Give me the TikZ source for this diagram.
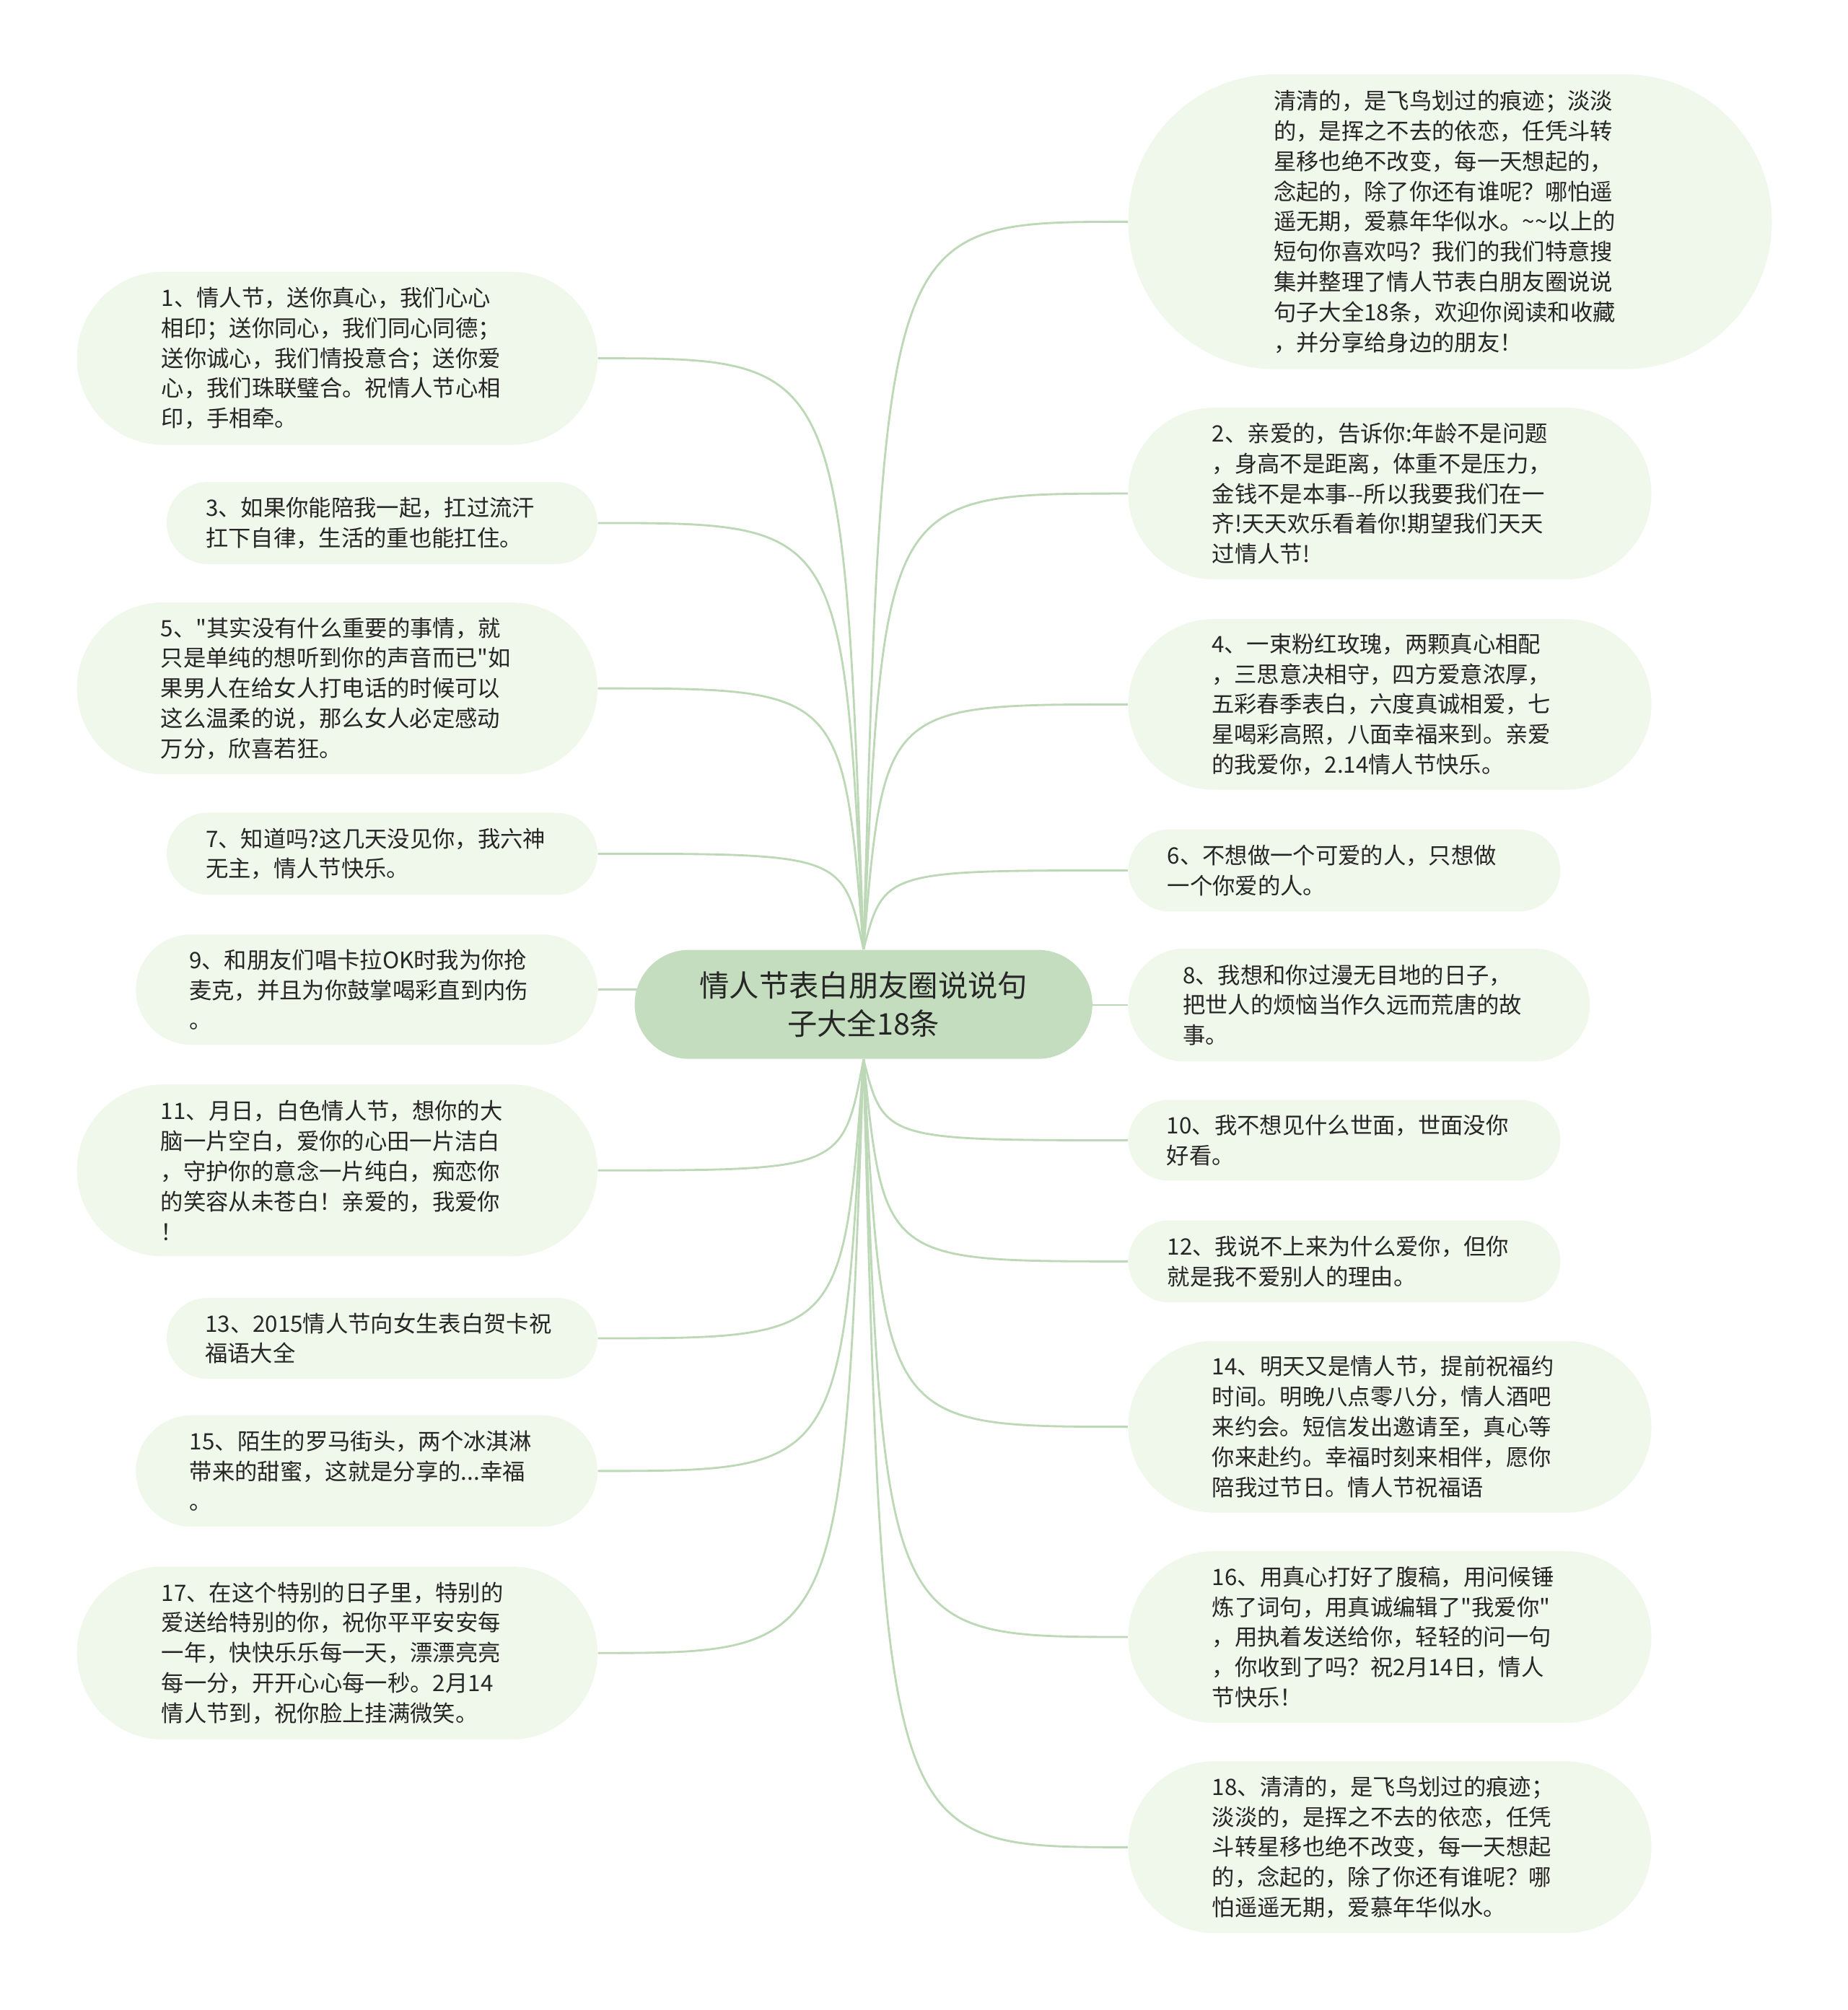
\documentclass[tikz,border=0pt]{standalone}
\usepackage{fontspec}
\setmainfont{Noto Sans CJK SC}[Ligatures=TeXOff]
\usetikzlibrary{backgrounds,calc}
\definecolor{rootfill}{RGB}{195,221,190}
\definecolor{leaffill}{RGB}{240,247,235}
\definecolor{linkline}{RGB}{188,216,182}
\definecolor{inktext}{RGB}{38,38,38}

\begin{document}
\begin{tikzpicture}[x=0.533pt, y=-0.533pt,
  leaf/.style 2 args={fill=leaffill, text=inktext, align=left, inner sep=0pt,
    text width=(#1-#2+3)*0.533pt,
    minimum width=#1*0.533pt, minimum height=#2*0.533pt, rounded corners=#2*0.2665pt,
    font=\fontsize{9.4pt}{12.55pt}\selectfont},
  hub/.style={fill=rootfill, text=inktext, align=center, inner sep=0pt,
    minimum width=357*0.533pt, minimum height=85*0.533pt, rounded corners=42.5*0.533pt,
    font=\fontsize{12.4pt}{16pt}\selectfont},
  link/.style={draw=linkline, line width=0.85pt}]

  %% ════ 中心主题 ════
  \node[hub] (root) at (673.5,783.5) {情人节表白朋友圈说说句\\子大全18条};

  %% ════ 左侧分支（奇数条）════
  \node[leaf={406}{135}] (b1)  at (263,279.5)  {1、情人节，送你真心，我们心心\\相印；送你同心，我们同心同德；\\送你诚心，我们情投意合；送你爱\\心，我们珠联璧合。祝情人节心相\\印，手相牵。};
  \node[leaf={336}{64}]  (b3)  at (298,408)    {3、如果你能陪我一起，扛过流汗\\扛下自律，生活的重也能扛住。};
  \node[leaf={406}{134}] (b5)  at (263,537)    {5、"其实没有什么重要的事情，就\\只是单纯的想听到你的声音而已"如\\果男人在给女人打电话的时候可以\\这么温柔的说，那么女人必定感动\\万分，欣喜若狂。};
  \node[leaf={336}{64}]  (b7)  at (298,666)    {7、知道吗?这几天没见你，我六神\\无主，情人节快乐。};
  \node[leaf={360}{86}]  (b9)  at (286,772)    {9、和朋友们唱卡拉OK时我为你抢\\麦克，并且为你鼓掌喝彩直到内伤\\。};
  \node[leaf={406}{134}] (b11) at (263,913)    {11、月日，白色情人节，想你的大\\脑一片空白，爱你的心田一片洁白\\，守护你的意念一片纯白，痴恋你\\的笑容从未苍白！亲爱的，我爱你\\！};
  \node[leaf={336}{63}]  (b13) at (298,1044)   {13、2015情人节向女生表白贺卡祝\\福语大全};
  \node[leaf={360}{87}]  (b15) at (286,1147.5) {15、陌生的罗马街头，两个冰淇淋\\带来的甜蜜，这就是分享的...幸福\\。};
  \node[leaf={406}{135}] (b17) at (263,1289.5) {17、在这个特别的日子里，特别的\\爱送给特别的你，祝你平平安安每\\一年，快快乐乐每一天，漂漂亮亮\\每一分，开开心心每一秒。2月14\\情人节到，祝你脸上挂满微笑。};

  %% ════ 右侧分支（偶数条）════
  \node[leaf={502}{230}] (b0)  at (1131,173)   {清清的，是飞鸟划过的痕迹；淡淡\\的，是挥之不去的依恋，任凭斗转\\星移也绝不改变，每一天想起的，\\念起的，除了你还有谁呢？哪怕遥\\遥无期，爱慕年华似水。\textasciitilde\textasciitilde 以上的\\短句你喜欢吗？我们的我们特意搜\\集并整理了情人节表白朋友圈说说\\句子大全18条，欢迎你阅读和收藏\\，并分享给身边的朋友！};
  \node[leaf={408}{134}] (b2)  at (1084,385)   {2、亲爱的，告诉你:年龄不是问题\\，身高不是距离，体重不是压力，\\金钱不是本事--所以我要我们在一\\齐!天天欢乐看着你!期望我们天天\\过情人节!};
  \node[leaf={408}{133}] (b4)  at (1084,549.5) {4、一束粉红玫瑰，两颗真心相配\\，三思意决相守，四方爱意浓厚，\\五彩春季表白，六度真诚相爱，七\\星喝彩高照，八面幸福来到。亲爱\\的我爱你，2.14情人节快乐。};
  \node[leaf={337}{64}]  (b6)  at (1048.5,679) {6、不想做一个可爱的人，只想做\\一个你爱的人。};
  \node[leaf={360}{88}]  (b8)  at (1060,784)   {8、我想和你过漫无目地的日子，\\把世人的烦恼当作久远而荒唐的故\\事。};
  \node[leaf={337}{63}]  (b10) at (1048.5,889.5) {10、我不想见什么世面，世面没你\\好看。};
  \node[leaf={337}{64}]  (b12) at (1048.5,984) {12、我说不上来为什么爱你，但你\\就是我不爱别人的理由。};
  \node[leaf={408}{134}] (b14) at (1084,1113)  {14、明天又是情人节，提前祝福约\\时间。明晚八点零八分，情人酒吧\\来约会。短信发出邀请至，真心等\\你来赴约。幸福时刻来相伴，愿你\\陪我过节日。情人节祝福语};
  \node[leaf={408}{134}] (b16) at (1084,1277)  {16、用真心打好了腹稿，用问候锤\\炼了词句，用真诚编辑了"我爱你"\\，用执着发送给你，轻轻的问一句\\，你收到了吗？祝2月14日，情人\\节快乐！};
  \node[leaf={408}{134}] (b18) at (1084,1441)  {18、清清的，是飞鸟划过的痕迹；\\淡淡的，是挥之不去的依恋，任凭\\斗转星移也绝不改变，每一天想起\\的，念起的，除了你还有谁呢？哪\\怕遥遥无期，爱慕年华似水。};

  %% ════ 连线（压在节点下面）════
  \begin{scope}[on background layer]
    \fill[white] (0,0) rectangle (1441,1568);
    % 上半：从主题顶边发出
    \foreach \n in {1,3,5,7}
      \draw[link] (root.north) .. controls ($(root.north |- b\n.east)+(-16,0)$) .. (b\n.east);
    \foreach \n in {0,2,4,6}
      \draw[link] (root.north) .. controls ($(root.north |- b\n.west)+(16,0)$) .. (b\n.west);
    % 下半：从主题底边发出
    \foreach \n in {11,13,15,17}
      \draw[link] (root.south) .. controls ($(root.south |- b\n.east)+(-16,0)$) .. (b\n.east);
    \foreach \n in {10,12,14,16,18}
      \draw[link] (root.south) .. controls ($(root.south |- b\n.west)+(16,0)$) .. (b\n.west);
    % 与主题平齐的两条
    \draw[link] (root.center |- b9.east) -- (b9.east);
    \draw[link] (root.center |- b8.west) -- (b8.west);
  \end{scope}

  % 钉死画布
  \pgfresetboundingbox
  \path[use as bounding box] (0,0) rectangle (1441,1568);
\end{tikzpicture}
\end{document}
